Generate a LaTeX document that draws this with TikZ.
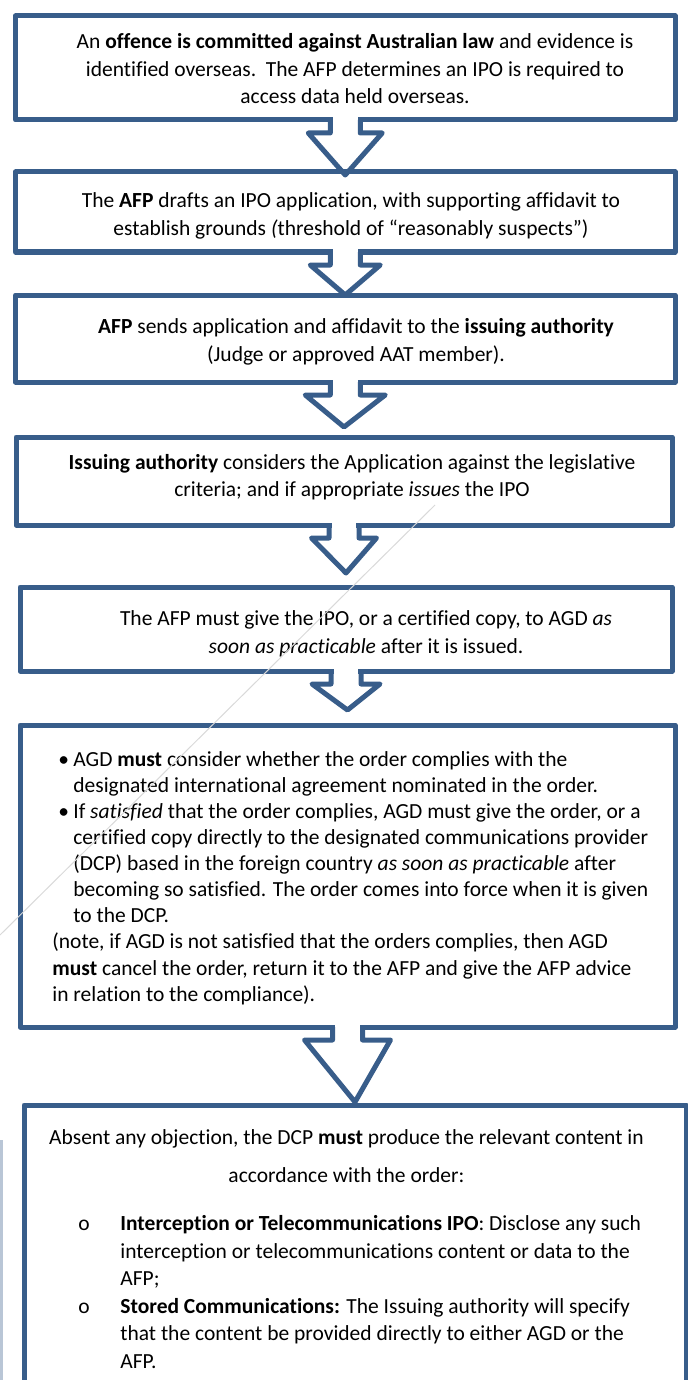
\documentclass[tikz,border=0pt]{standalone}
\usepackage{fontspec}
\setmainfont{Carlito}[Ligatures=NoCommon]
\usetikzlibrary{calc}
\definecolor{boxBlue}{HTML}{385D8A}

% hollow block arrow from the bottom of one box down to the next one
% [head half width]{from}{to}{gap left above the target}
\newcommand{\blockarrow}[4][18pt]{%
  \fill[white] ($(#2.south)+(-6.2pt,1.6pt)$) rectangle ($(#2.south)+(6.2pt,-2pt)$);
  \draw[A] ($(#2.south)+(-7.5pt,0)$) -- ++(0,-6.5pt) -- ++({-#1+7.5pt},0)
    -- ($(#3.north)+(0,#4)$) -- ($(#2.south)+(#1,-6.5pt)$) -- ++({-#1+7.5pt},0) -- ++(0,6.5pt);
}

\begin{document}
\begin{tikzpicture}[x=0.5pt, y=-0.5pt]

  \tikzstyle{S}=[rectangle, draw=boxBlue, line width=2.5pt, line join=round, outer sep=0pt, inner sep=0pt]
  \tikzstyle{T}=[align=center, inner sep=0pt, font=\fontsize{10.75}{13.75}\selectfont]
  \tikzstyle{A}=[draw=boxBlue, line width=2.5pt, line join=round]

  \useasboundingbox (0,0) rectangle (688,1380);
  \clip (0,0) rectangle (688,1380);

  % the boxes
  \node[S, minimum width=329.75pt, minimum height=52pt] at (345.25,68) (offence) {};
  \node[S, minimum width=329.75pt, minimum height=40pt] at (345.25,212) (draft) {};
  \node[S, minimum width=329.75pt, minimum height=43.5pt] at (345.25,338.5) (send) {};
  \node[S, minimum width=328pt, minimum height=44pt] at (344,481) (issue) {};
  \node[S, minimum width=326pt, minimum height=42pt] at (346,629) (give) {};
  \node[S, minimum width=327.5pt, minimum height=151pt] at (347.5,876) (agd) {};
  \node[S, minimum width=331pt, minimum height=157.5pt] at (355,1262.5) (dcp) {};

  % what goes in them
  \node[T] at (355,69) (offencetext) {An \textbf{offence is committed against Australian law} and evidence is\\
    identified overseas.\ \ The AFP determines an IPO is required to\\
    access data held overseas.};
  \node[T] at (351,216) (drafttext) {The \textbf{AFP} drafts an IPO application, with supporting affidavit to\\
    establish grounds \textit{(}threshold of “reasonably suspects”)};
  \node[T] at (356,342) (sendtext) {\textbf{AFP} sends application and affidavit to the \textbf{issuing authority}\\
    (Judge or approved AAT member).};
  \node[T] at (352,477) (issuetext) {\textbf{Issuing authority} considers the Application against the legislative\\
    criteria; and if appropriate \textit{issues} the IPO};
  \node[T] at (366,634) (givetext) {The AFP must give the IPO, or a certified copy, to AGD \textit{as}\\
    \textit{soon as practicable} after it is issued.};

  \node[T, align=left, anchor=west, font=\fontsize{10.75}{13.05}\selectfont] at (52,878) (agdtext) {%
    \makebox[10.5pt][l]{\hspace{3pt}\textbullet}AGD \textbf{must} consider whether the order complies with the\\
    \hspace*{10.5pt}designated international agreement nominated in the order.\\
    \makebox[10.5pt][l]{\hspace{3pt}\textbullet}If \textit{satisfied} that the order complies, AGD must give the order, or a\\
    \hspace*{10.5pt}certified copy directly to the designated communications provider\\
    \hspace*{10.5pt}(DCP) based in the foreign country \textit{as soon as practicable} after\\
    \hspace*{10.5pt}becoming so satisfied. The order comes into force when it is given\\
    \hspace*{10.5pt}to the DCP.\\
    (note, if AGD is not satisfied that the orders complies, then AGD\\
    \textbf{must} cancel the order, return it to the AFP and give the AFP advice\\
    in relation to the compliance).};

  \node[T, align=left, anchor=west] at (46,1249) (dcptext) {%
    \makebox[300pt]{Absent any objection, the DCP \textbf{must} produce the relevant content in}\\[5.25pt]
    \makebox[300pt]{accordance with the order:}\\[10.25pt]
    \hspace*{16pt}\makebox[21pt][l]{o}\textbf{Interception or Telecommunications IPO}: Disclose any such\\
    \hspace*{37pt}interception or telecommunications content or data to the\\
    \hspace*{37pt}AFP;\\
    \hspace*{16pt}\makebox[21pt][l]{o}\textbf{Stored Communications:} The Issuing authority will specify\\
    \hspace*{37pt}that the content be provided directly to either AGD or the\\
    \hspace*{37pt}AFP.};

  % arrows between the steps
  \blockarrow[18.5pt]{offence}{draft}{-1.5pt}
  \blockarrow[17.5pt]{draft}{send}{0pt}
  \blockarrow[20pt]{send}{issue}{5pt}
  \blockarrow[16.25pt]{issue}{give}{7pt}
  \blockarrow[17pt]{give}{agd}{7.5pt}
  \blockarrow[21.5pt]{agd}{dcp}{1.5pt}

  % stray faint strokes
  \draw[gray!30, line width=0.5pt] (435,505) -- (0,935);
  \draw[boxBlue!35, line width=1.5pt] (1,1140) -- (1,1380);

\end{tikzpicture}
\end{document}
